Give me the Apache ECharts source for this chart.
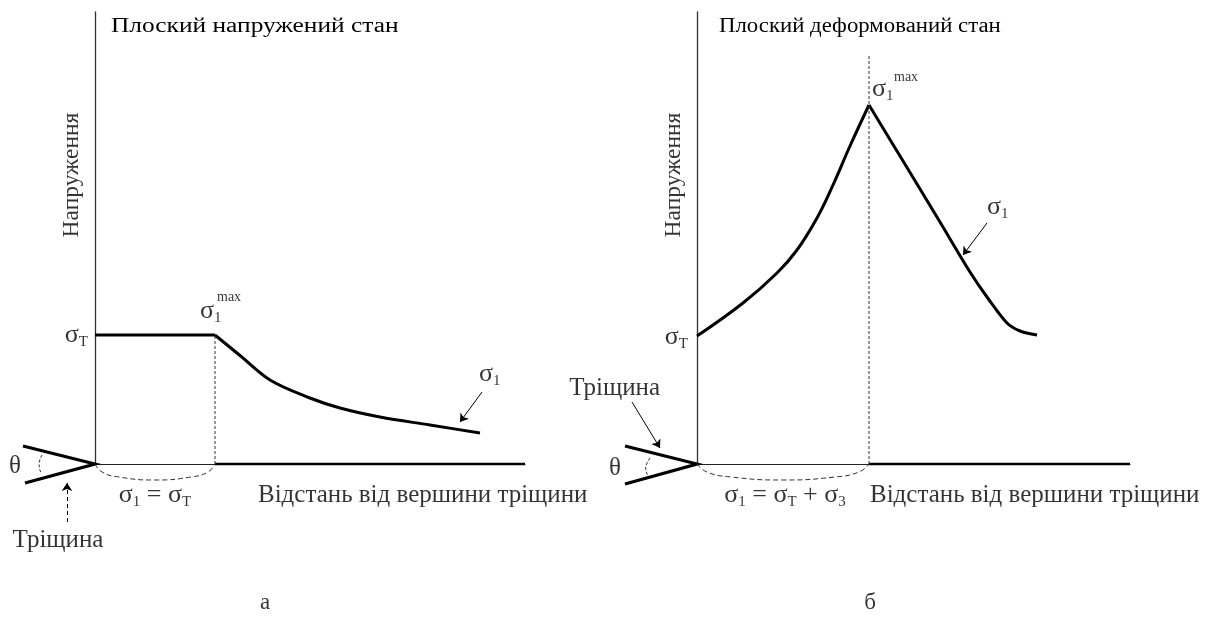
<!DOCTYPE html>
<html>
<head>
<meta charset="utf-8">
<script src="https://cdn.jsdelivr.net/npm/echarts@6/dist/echarts.min.js"></script>
<style>
  html, body { margin: 0; padding: 0; background: #fff; }
  #chart { width: 1215px; height: 638px; }
</style>
</head>
<body>
<div id="chart"></div>
<script>
// ---- texts ----
const titles = ['Плоский напружений стан', 'Плоский деформований стан'];
const yName = 'Напруження';
const xName = 'Відстань від вершини тріщини';
const crackName = 'Тріщина';
const panelTags = ['а', 'б'];

// ---- stress distributions (arbitrary units; x = distance from crack tip) ----
const planeStressPlateau = [[0, 12.9], [12, 12.9]];
const planeStressDecay = [[12, 12.9], [14.5, 10.85], [17.5, 8.4], [21.5, 6.6], [24.5, 5.6], [28.5, 4.7], [33.5, 3.9], [38.5, 3.1]];
const planeStrainRise = [[0, 12.8], [4.6, 16.1], [8.0, 19.1], [10.0, 21.4], [12.0, 24.6], [13.6, 27.9], [15.3, 31.8], [17.2, 35.9]];
const planeStrainFall = [[17.2, 35.9], [20.3, 30.8], [24.3, 24.2], [27.3, 19.2], [29.0, 16.7], [31.0, 14.1], [32.3, 13.3], [34.0, 12.9]];

// plastic zone size (position of the stress peak) for each state
const zoneEnd = [12, 17.2];
const zoneMarkTop = [12.9, 40.9];
const axisEnd = [43, 43.3];
const axisTop = 45.2;

// dashed brace under the plastic zone
const zoneBrace = [
  [[0, 0], [0.7, -0.8], [2.4, -1.3], [6, -1.6], [9.6, -1.3], [11.3, -0.8], [12, 0]],
  [[0, 0], [1.0, -0.8], [3.4, -1.3], [8.6, -1.6], [13.8, -1.3], [16.2, -0.8], [17.2, 0]]
];
// crack flanks and opening angle arc
const crackFlanks = [
  [[-7.2, 1.8], [0, 0], [-7.0, -1.9]],
  [[-7.2, 1.8], [0, 0], [-7.2, -2.0]]
];
const thetaArc = [
  [[-5.3, 0.9], [-5.5, 0.5], [-5.6, 0], [-5.55, -0.5], [-5.4, -0.9]],
  [[-4.7, 0.6], [-4.95, 0.2], [-5.15, -0.3], [-5.1, -0.7], [-4.95, -1.1]]
];
// pointer arrows: [from, to, dashed]
const pointers = [
  [[[38.7, 7.2], [36.5, 4.2], false], [[-2.8, -5.8], [-2.8, -1.9], true]],
  [[[29.0, 24.1], [26.6, 20.9], false], [[-6.5, 6.2], [-3.7, 1.6], false]]
];

const FONT = '"Liberation Serif", "Times New Roman", serif';
const INK = '#000';

const rich = {
  s: { fontFamily: FONT, fontSize: 26, lineHeight: 30, color: INK },
  sub: { fontFamily: FONT, fontSize: 15, lineHeight: 16, verticalAlign: 'bottom', color: INK },
  sup: { fontFamily: FONT, fontSize: 14, lineHeight: 16, color: INK },
  t: { fontFamily: FONT, fontSize: 25, lineHeight: 28, color: INK },
  y: { fontFamily: FONT, fontSize: 23.5, lineHeight: 28, color: INK },
  tag: { fontFamily: FONT, fontSize: 23, lineHeight: 28, color: INK }
};

// annotation texts: [x, y, text, align, rotate]
const notes = [
  [
    [-0.7, 12.9, '{s|σ}{sub|Т}', 'right'],
    [10.5, 15.3, '{s|σ}{sub|1}', 'left'],
    [12.2, 16.7, '{sup|max}', 'left'],
    [38.4, 9.0, '{s|σ}{sub|1}', 'left'],
    [6.0, -3.1, '{s|σ}{sub|1}{s| = σ}{sub|Т}', 'center'],
    [16.3, -3.1, '{t|' + xName + '}', 'left'],
    [-8.0, -0.2, '{t|θ}', 'center'],
    [-3.7, -7.6, '{t|' + crackName + '}', 'center'],
    [-2.3, 28.9, '{y|' + yName + '}', 'center', 90],
    [17.0, -13.9, '{tag|' + panelTags[0] + '}', 'center']
  ],
  [
    [-0.9, 12.7, '{s|σ}{sub|Т}', 'right'],
    [17.5, 37.5, '{s|σ}{sub|1}', 'left'],
    [19.7, 38.7, '{sup|max}', 'left'],
    [29.0, 25.7, '{s|σ}{sub|1}', 'left'],
    [8.8, -3.1, '{s|σ}{sub|1}{s| = σ}{sub|Т}{s| + σ}{sub|3}', 'center'],
    [17.3, -3.1, '{t|' + xName + '}', 'left'],
    [-8.2, -0.4, '{t|θ}', 'center'],
    [-3.7, 7.6, '{t|' + crackName + '}', 'right'],
    [-2.3, 28.9, '{y|' + yName + '}', 'center', 90],
    [17.3, -13.9, '{tag|' + panelTags[1] + '}', 'center']
  ]
];

const curves = [
  [[planeStressPlateau, 0], [planeStressDecay, 0.35]],
  [[planeStrainRise, 0.4], [planeStrainFall, 0.3]]
];

const gridLeft = [95, 697];
const gridWidth = [430, 433];

const grid = [0, 1].map(i => ({ left: gridLeft[i], top: 12, width: gridWidth[i], height: 452 }));
const xAxis = [0, 1].map(i => ({
  gridIndex: i, type: 'value', min: 0, max: axisEnd[i],
  axisLine: { show: true, onZero: false, lineStyle: { color: '#222', width: 1 } },
  axisTick: { show: false }, axisLabel: { show: false }, splitLine: { show: false }
}));
const yAxis = [0, 1].map(i => ({
  gridIndex: i, type: 'value', min: 0, max: axisTop,
  axisLine: { show: true, onZero: false, lineStyle: { color: '#333', width: 1.3 } },
  axisTick: { show: false }, axisLabel: { show: false }, splitLine: { show: false }
}));

function lineSeries(i, data, style, smooth) {
  return {
    type: 'line', xAxisIndex: i, yAxisIndex: i, data: data,
    smooth: smooth || false, symbol: 'none', clip: false, silent: true,
    lineStyle: Object.assign({ color: INK, width: 1 }, style)
  };
}

function polylines(i, items) {
  return {
    type: 'lines', coordinateSystem: 'cartesian2d', xAxisIndex: i, yAxisIndex: i,
    polyline: true, clip: false, silent: true, symbol: 'none',
    data: items.map(it => ({ coords: it.coords, lineStyle: it.style })),
    lineStyle: { color: INK, width: 1, opacity: 1 }
  };
}

const series = [];
[0, 1].forEach(i => {
  curves[i].forEach(([d, sm]) => series.push(lineSeries(i, d, { width: 3 }, sm)));
  // heavier axis beyond the plastic zone
  series.push(lineSeries(i, [[zoneEnd[i], 0], [axisEnd[i], 0]], { width: 2.4 }));
  // plastic zone boundary
  series.push(lineSeries(i, [[zoneEnd[i], 0], [zoneEnd[i], zoneMarkTop[i]]], { width: 1, type: [3, 2], color: '#333' }));
  series.push(lineSeries(i, zoneBrace[i], { width: 1, type: [5, 3], color: '#333' }, 0.5));
  // crack and its opening angle
  series.push(polylines(i, [
    { coords: crackFlanks[i], style: { color: INK, width: 3.2, join: 'miter' } },
    { coords: thetaArc[i], style: { color: '#333', width: 1, type: [3, 2] } }
  ]));
  series.push({
    type: 'lines', coordinateSystem: 'cartesian2d', xAxisIndex: i, yAxisIndex: i,
    clip: false, silent: true, symbol: ['none', 'arrow'], symbolSize: 8,
    data: pointers[i].map(p => ({
      coords: [p[0], p[1]],
      lineStyle: { color: INK, width: 1, type: p[2] ? [4, 3] : 'solid' }
    })),
    lineStyle: { color: INK, width: 1, curveness: 0, opacity: 1 }
  });
  series.push({
    type: 'scatter', xAxisIndex: i, yAxisIndex: i, symbolSize: 0, clip: false, silent: true,
    data: notes[i].map(n => ({
      value: [n[0], n[1]],
      label: {
        show: true, position: [0, 0], align: n[3], verticalAlign: 'middle',
        rotate: n[4] || 0, formatter: n[2], rich: rich
      }
    }))
  });
});

// panel headings, set in a wide face
const titleLeft = [111, 719];
const titleStretch = [1.27, 1.14];

const chart = echarts.init(document.getElementById('chart'), null, { renderer: 'canvas' });
chart.setOption({
  animation: false,
  backgroundColor: '#fff',
  graphic: [0, 1].map(i => ({
    type: 'text', x: titleLeft[i], y: 27, scaleX: titleStretch[i], silent: true,
    style: { text: titles[i], fontFamily: FONT, fontSize: 20, fill: INK, verticalAlign: 'middle', align: 'left' }
  })),
  grid: grid, xAxis: xAxis, yAxis: yAxis, series: series
});
</script>
</body>
</html>
